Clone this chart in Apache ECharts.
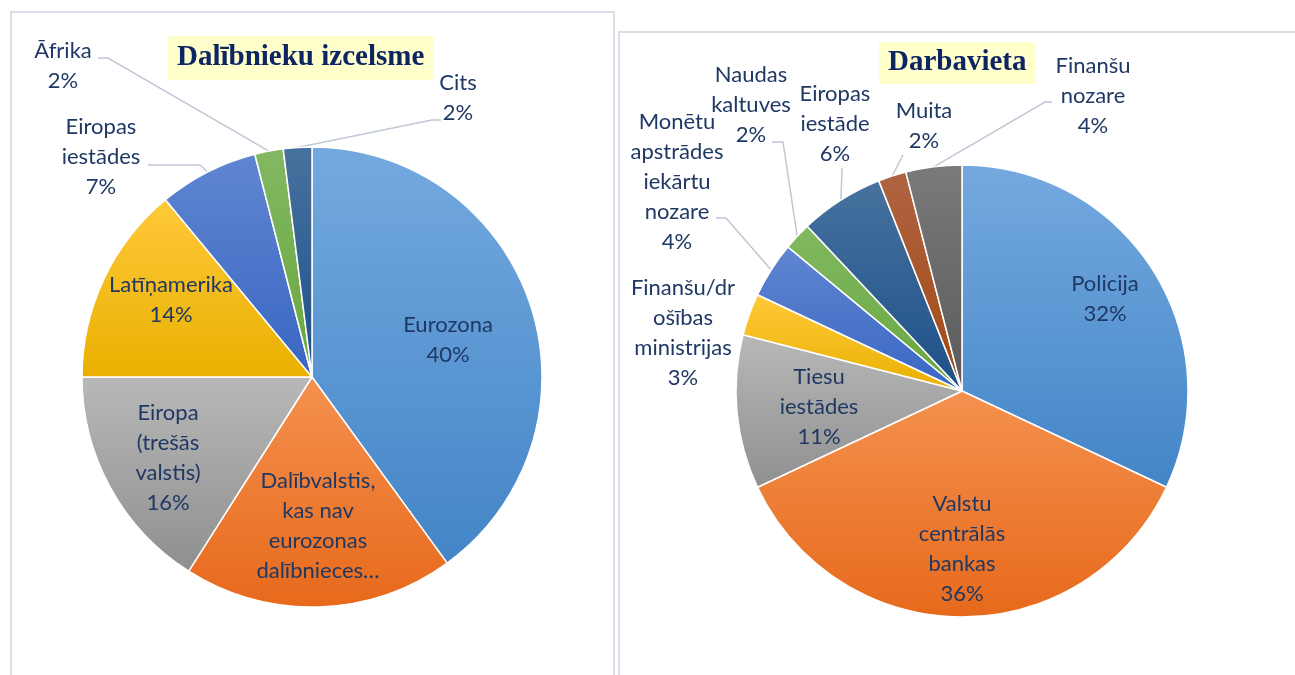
<!DOCTYPE html>
<html>
<head>
<meta charset="utf-8">
<script src="https://cdn.jsdelivr.net/npm/echarts@6/dist/echarts.min.js"></script>
<style>
  html, body { margin: 0; padding: 0; background: #fff; }
  #chart { width: 1295px; height: 675px; }
</style>
</head>
<body>
<div id="chart"></div>
<script>
// --- data (shares in %) ---
const originNames = [
  'Eurozona',
  'Dalībvalstis,\nkas nav\neurozonas\ndalībnieces…',
  'Eiropa\n(trešās\nvalstis)',
  'Latīņamerika',
  'Eiropas\niestādes',
  'Āfrika',
  'Cits'
];
const originShares = [40, 19, 16, 14, 7, 2, 2];

const workNames = [
  'Policija',
  'Valstu\ncentrālās\nbankas',
  'Tiesu\niestādes',
  'Finanšu/dr\nošības\nministrijas',
  'Monētu\napstrādes\niekārtu\nnozare',
  'Naudas\nkaltuves',
  'Eiropas\niestāde',
  'Muita',
  'Finanšu\nnozare'
];
const workShares = [32, 36, 11, 3, 4, 2, 6, 2, 4];

// --- look ---
// office style vertical gradients [top, bottom]
const fills = {
  blue:  ['#74A9DF', '#4385C7'],
  orange:['#F4914F', '#E7691B'],
  gray:  ['#B8B8B8', '#8F8F8F'],
  gold:  ['#FFC93A', '#E9B000'],
  blue2: ['#6086D2', '#3966C2'],
  green: ['#82B862', '#67A73F'],
  navy:  ['#47729F', '#1D5088'],
  brown: ['#AF6442', '#A24912'],
  dgray: ['#7A7A7A', '#5A5A5A']
};
const originFill = ['blue', 'orange', 'gray', 'gold', 'blue2', 'green', 'navy'];
const workFill = ['blue', 'orange', 'gray', 'gold', 'blue2', 'green', 'navy', 'brown', 'dgray'];

// label block centres, and leader line [elbow, end] for the outside ones
const originLabelAt = [[448, 340], [318, 526], [168, 458], [171, 300], [101, 157], [63, 66], [458, 98]];
const originLineAt = [null, null, null, null, [[200, 165], [148, 165]], [[108, 58], [98, 58]], [[432, 120], [441, 120]]];
const workLabelAt = [[1105, 299], [962, 549], [819, 407], [683, 333], [677, 182], [751, 105], [835, 124], [924, 126], [1093, 96]];
const workLineAt = [null, null, null, 'none', [[726, 218], [716, 218]], [[783, 142], [772, 142]], [[842, 168], [842, 168]], [[903, 155], [903, 155]], [[1045, 102], [1052, 102]]];
// the long label got cut by the original tool, no value shown
const originNameOnly = [1];

const textColor = '#1F3864';
const lineColor = '#BFC8D6';

function grad(key) {
  return new echarts.graphic.LinearGradient(0, 0, 0, 1, [
    { offset: 0, color: fills[key][0] },
    { offset: 1, color: fills[key][1] }
  ]);
}

function buildData(names, shares, fillKeys, lines, nameOnly) {
  return names.map((n, i) => {
    let outside = lines[i] != null;
    return {
      name: n,
      value: shares[i],
      itemStyle: { color: grad(fillKeys[i]) },
      label: {
        position: outside ? 'outside' : 'inside',
        formatter: nameOnly.indexOf(i) >= 0 ? '{b}' : '{b}\n{c}%'
      },
      labelLine: { show: outside && lines[i] !== 'none' }
    };
  });
}

function layoutFor(labelAt, lineAt) {
  return function (params) {
    let i = params.dataIndex;
    let res = {
      x: labelAt[i][0],
      y: labelAt[i][1],
      align: 'center',
      verticalAlign: 'middle'
    };
    let ln = lineAt[i];
    if (ln && ln !== 'none' && params.labelLinePoints) {
      res.labelLinePoints = [params.labelLinePoints[0], ln[0], ln[1]];
    }
    return res;
  };
}

function pieSeries(center, radius, data, labelAt, lineAt) {
  return {
    type: 'pie',
    center: center,
    radius: radius,
    startAngle: 90,
    clockwise: true,
    avoidLabelOverlap: false,
    minShowLabelAngle: 0,
    silent: true,
    data: data,
    itemStyle: { borderColor: '#fff', borderWidth: 1.5 },
    label: {
      show: true,
      color: textColor,
      fontFamily: 'Lato',
      fontSize: 22,
      lineHeight: 30,
      align: 'center'
    },
    labelLine: {
      length: 10,
      length2: 10,
      lineStyle: { color: lineColor, width: 1.5 }
    },
    labelLayout: layoutFor(labelAt, lineAt)
  };
}

let myChart = echarts.init(document.getElementById('chart'), null, { renderer: 'canvas' });

let option = {
  animation: false,
  backgroundColor: '#fff',
  title: [
    {
      text: 'Dalībnieku izcelsme',
      left: 168,
      top: 36,
      padding: [6, 9, 6, 9],
      backgroundColor: '#FFFFCC',
      textStyle: { fontFamily: 'Liberation Serif', fontWeight: 'bold', fontSize: 29, lineHeight: 32, color: '#0E2563' }
    },
    {
      text: 'Darbavieta',
      left: 879,
      top: 42,
      padding: [5, 9, 5, 9],
      backgroundColor: '#FFFFCC',
      textStyle: { fontFamily: 'Liberation Serif', fontWeight: 'bold', fontSize: 29, lineHeight: 32, color: '#0E2563' }
    }
  ],
  graphic: [
    { type: 'rect', z: -1, shape: { x: 11, y: 12, width: 603, height: 700 }, style: { fill: 'none', stroke: '#DADFE7', lineWidth: 2 } },
    { type: 'rect', z: -1, shape: { x: 619, y: 32, width: 700, height: 700 }, style: { fill: 'none', stroke: '#DADFE7', lineWidth: 2 } }
  ],
  series: [
    pieSeries([312, 377], 230, buildData(originNames, originShares, originFill, originLineAt, originNameOnly), originLabelAt, originLineAt),
    pieSeries([962, 391], 226, buildData(workNames, workShares, workFill, workLineAt, []), workLabelAt, workLineAt)
  ]
};

myChart.setOption(option);
</script>
</body>
</html>
